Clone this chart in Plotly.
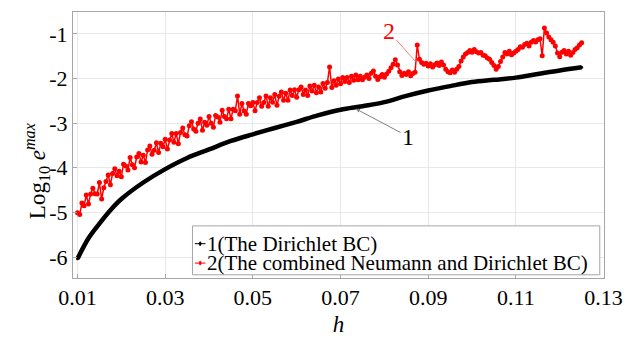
import numpy as np
import plotly.graph_objects as go

# Dirichlet BC: max error (log10) against mesh size h
h_dirichlet = [0.010, 0.0125, 0.015, 0.0175, 0.020, 0.025, 0.030, 0.035, 0.040,
               0.045, 0.050, 0.055, 0.060, 0.065, 0.070, 0.075, 0.080, 0.085,
               0.090, 0.095, 0.100, 0.105, 0.110, 0.115, 0.120, 0.125]
err_dirichlet = [-6.04, -5.58, -5.25, -4.95, -4.70, -4.33, -4.03, -3.78, -3.59,
                 -3.40, -3.25, -3.11, -2.97, -2.82, -2.70, -2.62, -2.53, -2.39,
                 -2.27, -2.17, -2.08, -2.03, -1.98, -1.90, -1.82, -1.75]

# Combined Neumann and Dirichlet BC: h sampled every 0.0005 from 0.010 to 0.125
h_mixed = np.round(np.arange(0, 231) * 0.0005 + 0.010, 4)
err_mixed = [
    -5.01, -5.05, -4.79, -4.85, -4.61, -4.81, -4.59, -4.46, -4.58, -4.59,
    -4.33, -4.70, -4.45, -4.31, -4.16, -4.38, -4.13, -4.02, -4.18, -4.08,
    -4.20, -3.92, -3.96, -4.05, -3.77, -3.93, -4.00, -3.76, -3.68, -3.87,
    -3.72, -3.88, -3.60, -3.51, -3.70, -3.61, -3.44, -3.66, -3.45, -3.53,
    -3.36, -3.58, -3.38, -3.23, -3.43, -3.23, -3.46, -3.21, -3.11, -3.26,
    -3.29, -3.06, -2.97, -3.13, -3.18, -3.00, -2.91, -3.16, -2.98, -3.05,
    -2.85, -3.00, -3.09, -2.83, -2.86, -2.98, -2.71, -2.85, -2.90, -2.69,
    -2.90, -2.69, -2.72, -2.39, -2.80, -2.56, -2.73, -2.80, -2.56, -2.61,
    -2.54, -2.72, -2.54, -2.43, -2.62, -2.54, -2.39, -2.62, -2.43, -2.53,
    -2.36, -2.60, -2.40, -2.30, -2.49, -2.33, -2.49, -2.26, -2.38, -2.25,
    -2.42, -2.25, -2.19, -2.36, -2.26, -2.38, -2.17, -2.28, -2.15, -2.32,
    -2.19, -2.30, -2.11, -2.22, -2.09, -1.74, -2.20, -2.05, -2.15, -2.01,
    -2.12, -1.98, -2.07, -1.98, -2.09, -1.95, -2.04, -1.92, -2.03, -1.95,
    -2.03, -1.97, -1.92, -2.00, -1.88, -1.83, -1.95, -2.02, -1.96, -1.91,
    -1.97, -1.90, -1.84, -1.76, -1.68, -1.58, -1.70, -1.85, -1.93, -1.88,
    -1.91, -1.85, -1.94, -1.89, -1.86, -1.25, -1.57, -1.64, -1.68, -1.66,
    -1.72, -1.67, -1.74, -1.69, -1.65, -1.71, -1.63, -1.70, -1.79, -1.85,
    -1.87, -1.81, -1.86, -1.79, -1.73, -1.61, -1.52, -1.45, -1.42, -1.37,
    -1.41, -1.35, -1.40, -1.43, -1.42, -1.48, -1.49, -1.54, -1.57, -1.64,
    -1.71, -1.79, -1.73, -1.62, -1.52, -1.42, -1.45, -1.39, -1.47, -1.43,
    -1.39, -1.35, -1.29, -1.30, -1.24, -1.21, -1.27, -1.19, -1.15, -1.18,
    -1.13, -1.11, -1.49, -0.87, -0.98, -1.07, -1.13, -1.19, -1.27, -1.43,
    -1.51, -1.41, -1.37, -1.45, -1.39, -1.48, -1.42, -1.35, -1.31, -1.25,
    -1.20,
]

x_ticks = [0.01, 0.03, 0.05, 0.07, 0.09, 0.11, 0.13]
x_tick_text = ["0.01", "0.03", "0.05", "0.07", "0.09", "0.11", "0.13"]
y_ticks = [-6, -5, -4, -3, -2, -1]
y_tick_text = ["-6", "-5", "-4", "-3", "-2", "-1"]

legend_labels = ["1(The Dirichlet BC)", "2(The combined Neumann and Dirichlet BC)"]
colors = ["black", "#ff0000"]

FONT = "Liberation Serif"

fig = go.Figure()
fig.add_trace(go.Scatter(
    x=h_dirichlet, y=err_dirichlet, mode="lines+markers",
    name=legend_labels[0], showlegend=False,
    line=dict(color=colors[0], width=4.5, shape="spline"),
    marker=dict(color=colors[0], size=3),
))
fig.add_trace(go.Scatter(
    x=h_mixed, y=err_mixed, mode="lines+markers",
    name=legend_labels[1], showlegend=False,
    line=dict(color=colors[1], width=1.5),
    marker=dict(color=colors[1], size=5),
))

axis_common = dict(
    showgrid=True, gridcolor="#e8e8e8", gridwidth=1,
    showline=True, linecolor="#a6a6a6", linewidth=1, mirror=True,
    ticks="inside", ticklen=4, tickcolor="#a6a6a6",
    zeroline=False,
    tickfont=dict(family=FONT, size=22, color="black"),
)

fig.update_layout(
    width=634, height=344,
    margin=dict(l=73, r=22, t=11, b=58),
    paper_bgcolor="white", plot_bgcolor="white",
    font=dict(family=FONT, size=22, color="black"),
    xaxis=dict(range=[0.00897, 0.1301], tickvals=x_ticks, ticktext=x_tick_text,
               title=dict(text="<i>h</i>", font=dict(family=FONT, size=23), standoff=6),
               **axis_common),
    yaxis=dict(range=[-6.47, -0.51], tickvals=y_ticks, ticktext=y_tick_text,
               **axis_common),
    showlegend=False,
)

# Rotated y-axis title
fig.add_annotation(
    xref="paper", yref="paper", x=-0.1015, y=0.404,
    text="Log<sub>10</sub> <i>e</i><sup><i>max</i></sup>",
    textangle=-90, showarrow=False,
    font=dict(family=FONT, size=23, color="black"),
)

# Legend box drawn in paper coordinates
fig.add_shape(type="rect", xref="paper", yref="paper",
              x0=0.225, x1=0.992, y0=0.0120, y1=0.1960,
              line=dict(color="#a6a6a6", width=1), fillcolor="white", layer="above")
legend_rows = [0.1290, 0.0560]
for label, color, yrow in zip(legend_labels, colors, legend_rows):
    fig.add_shape(type="line", xref="paper", yref="paper",
                  x0=0.2295, x1=0.2495, y0=yrow, y1=yrow,
                  line=dict(color=color, width=1), layer="above")
    fig.add_shape(type="circle", xref="paper", yref="paper",
                  x0=0.2375, x1=0.2415, y0=yrow - 0.0075, y1=yrow + 0.0075,
                  line=dict(color=color, width=0.5), fillcolor=color, layer="above")
    fig.add_annotation(xref="paper", yref="paper", x=0.2485, y=yrow,
                       xanchor="left", yanchor="middle", text=label,
                       showarrow=False, font=dict(family=FONT, size=21, color="black"))

# Curve labels with leader lines
fig.add_annotation(
    x=0.0872, y=-1.63, ax=0.0810, ay=-0.944, axref="x", ayref="y",
    text="2", showarrow=True, arrowhead=0, arrowwidth=0.8,
    arrowcolor="#ff6060",
    font=dict(family=FONT, size=24, color="#ff0000"),
)
fig.add_annotation(
    x=0.0735, y=-2.68, ax=0.0854, ay=-3.30, axref="x", ayref="y",
    text="1", showarrow=True, arrowhead=2, arrowsize=0.8, arrowwidth=1,
    arrowcolor="#808080",
    font=dict(family=FONT, size=24, color="black"),
)

fig.write_html("out.html")
